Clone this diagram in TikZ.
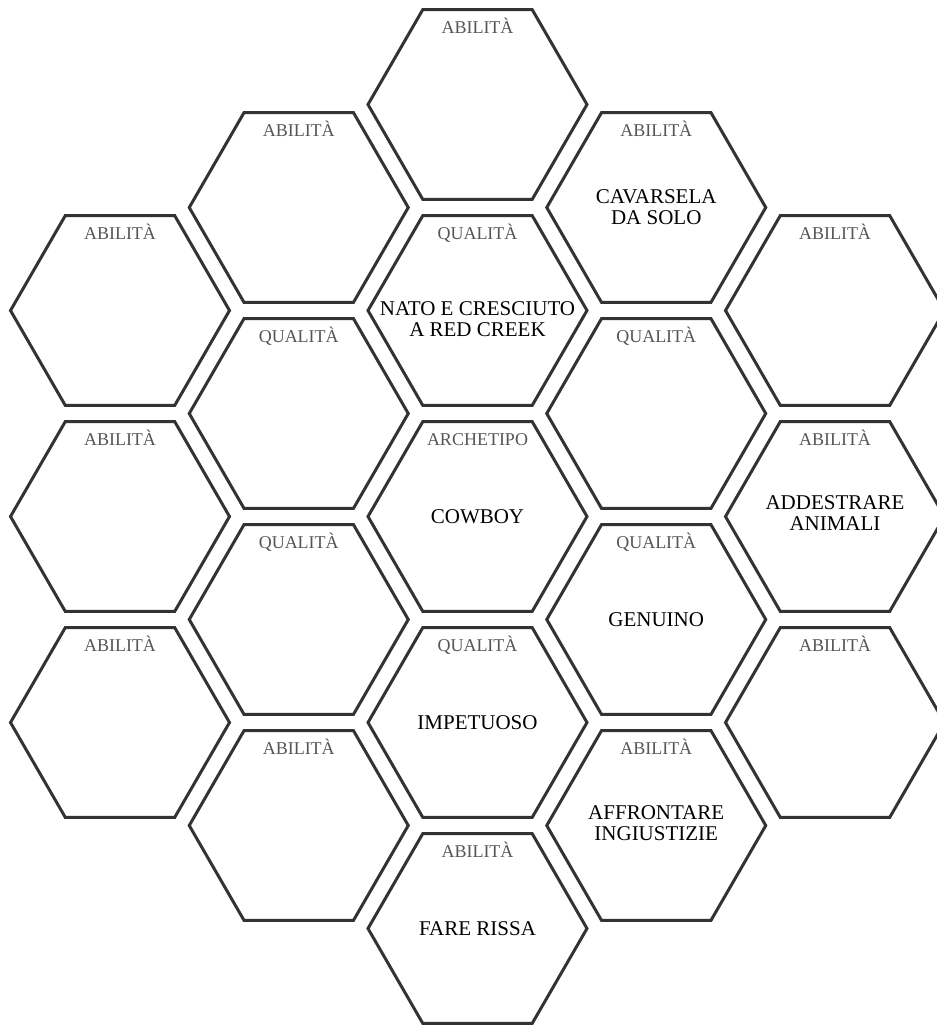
\documentclass[tikz,border=0pt]{standalone}
\usepackage{fontspec}
\setmainfont{Liberation Serif}
\usetikzlibrary{shapes.geometric}
\definecolor{hexline}{HTML}{333333}
\definecolor{taggray}{HTML}{555555}

\begin{document}
\begin{tikzpicture}[
x=0.75pt, y=-0.75pt,
    H/.style = {regular polygon, regular polygon sides=6,% cells of the grid
                draw=hexline, line width=2.25pt,
                minimum size=164.25pt, inner sep=0pt},
    T/.style = {text=taggray, anchor=base, inner sep=0pt,
                font=\fontsize{13.5}{13.5}\selectfont},
    N/.style = {align=center, inner sep=0pt,
                font=\fontsize{15.75}{15.75}\selectfont},
                        ]
\clip (0,0) rectangle (937,1026);
\foreach \n/\x/\y/\t in {A1/120/310.5/ABILITÀ, A2/120/516.5/ABILITÀ, A3/120/722.5/ABILITÀ,
    B1/298.75/207.5/ABILITÀ, B2/298.75/413.5/QUALITÀ, B3/298.75/619.5/QUALITÀ, B4/298.75/825.5/ABILITÀ,
    C1/477.5/104.5/ABILITÀ, C2/477.5/310.5/QUALITÀ, C3/477.5/516.5/ARCHETIPO, C4/477.5/722.5/QUALITÀ, C5/477.5/928.5/ABILITÀ,
    D1/656.25/207.5/ABILITÀ, D2/656.25/413.5/QUALITÀ, D3/656.25/619.5/QUALITÀ, D4/656.25/825.5/ABILITÀ,
    E1/835/310.5/ABILITÀ, E2/835/516.5/ABILITÀ, E3/835/722.5/ABILITÀ}% <-- cell, centre, tag
  {\node[H] (\n) at (\x,\y) {};
   \node[T] (\n-tag) at (\x,{\y-71}) {\t};}
\node[N] (C2-name) at ([yshift=-6.75pt] C2) {NATO E CRESCIUTO\\A RED CREEK};
\node[N] (C3-name) at (C3) {COWBOY};
\node[N] (C4-name) at (C4) {IMPETUOSO};
\node[N] (C5-name) at (C5) {FARE RISSA};
\node[N] (D1-name) at (D1) {CAVARSELA\\DA SOLO};
\node[N] (D3-name) at (D3) {GENUINO};
\node[N] (D4-name) at ([yshift=1.5pt] D4) {AFFRONTARE\\INGIUSTIZIE};
\node[N] (E2-name) at ([yshift=2.25pt] E2) {ADDESTRARE\\ANIMALI};
\end{tikzpicture}
\end{document}
